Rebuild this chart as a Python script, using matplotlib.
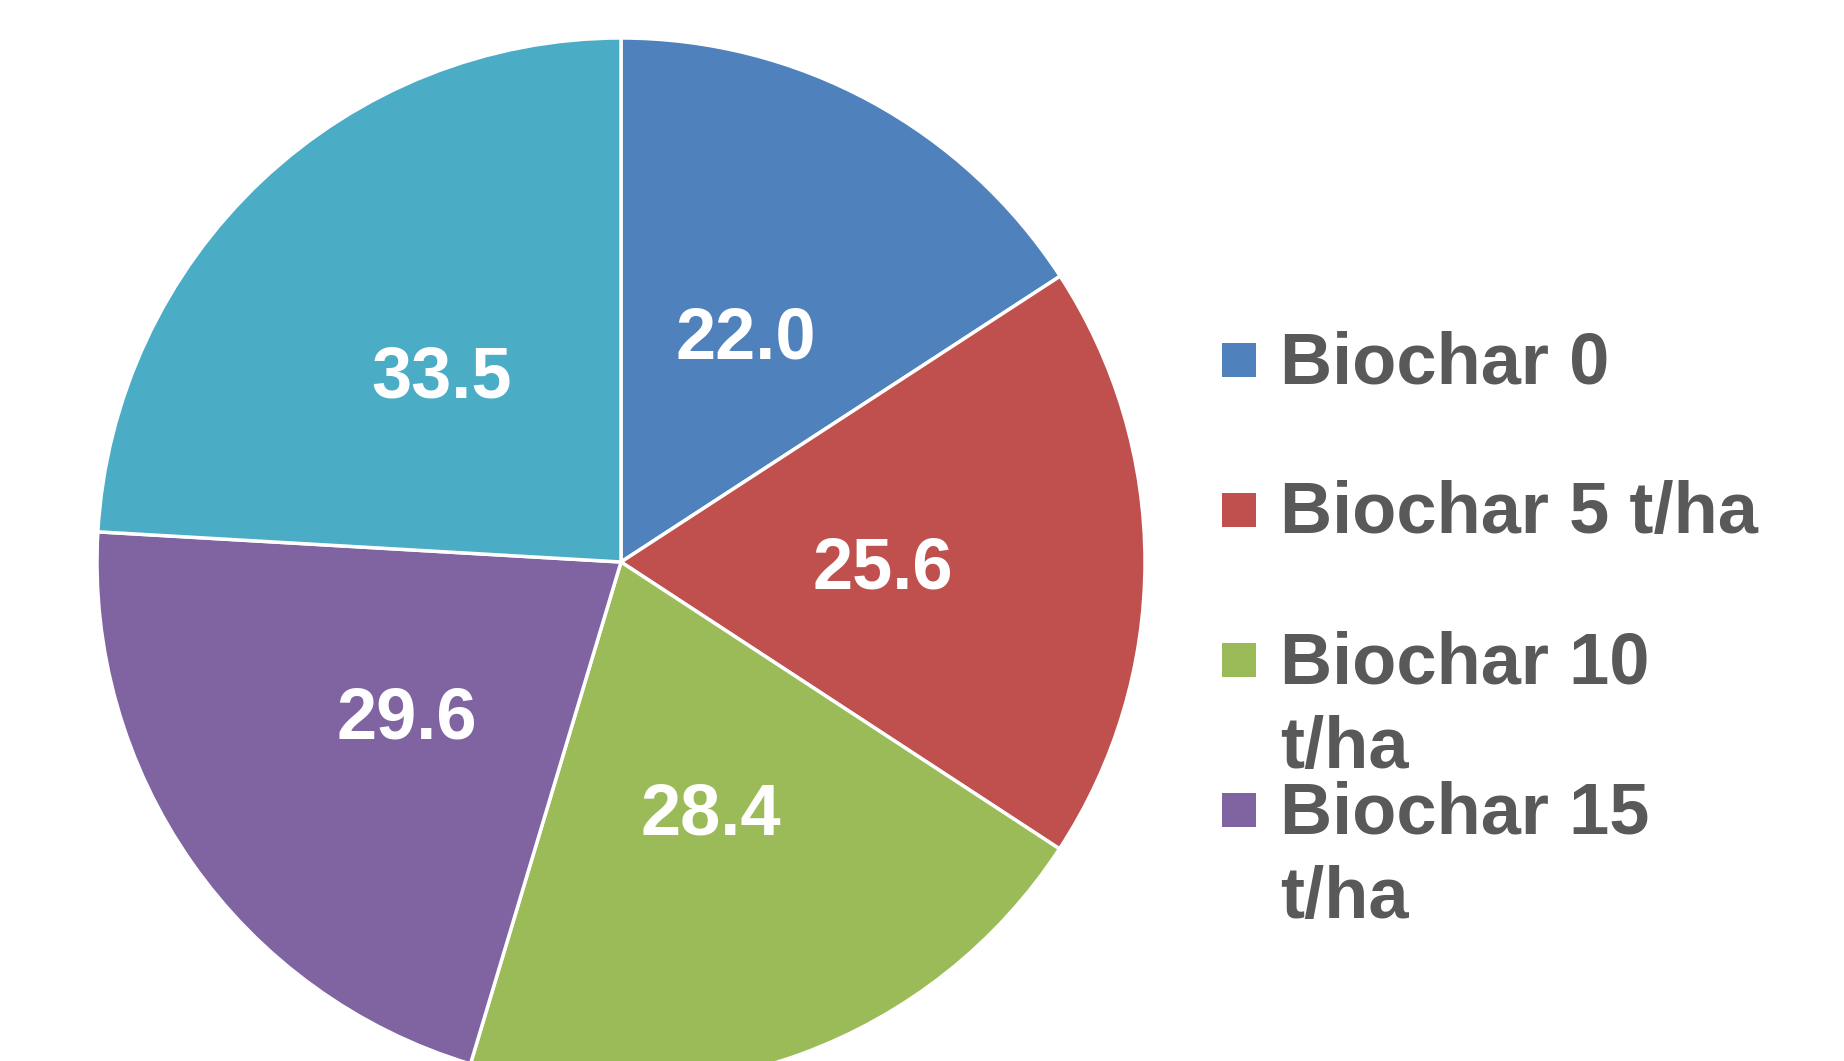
import matplotlib
matplotlib.use("Agg")
from matplotlib import pyplot as plt
from matplotlib.patches import Rectangle

# data
labels = ["Biochar 0", "Biochar 5 t/ha", "Biochar 10\nt/ha", "Biochar 15\nt/ha"]
values = [22.0, 25.6, 28.4, 29.6, 33.5]
colors = ["#4F81BD", "#C0504D", "#9BBB59", "#8064A2", "#4BACC6"]

W, H = 1844, 1061
DPI = 100
TEXT_GREY = "#595959"
FONT = "Liberation Sans"

fig = plt.figure(figsize=(W / DPI, H / DPI), dpi=DPI)

# pie centred at (621, 562) px, radius 524 px (bottom runs off the figure)
cx, cy, r = 621, 562, 524
ax = fig.add_axes([(cx - r) / W, (H - cy - r) / H, 2 * r / W, 2 * r / H])

total = sum(values)
wedges, texts, autotexts = ax.pie(
    values,
    colors=colors,
    startangle=90,
    counterclock=False,
    autopct=lambda p: f"{p * total / 100:.1f}",
    pctdistance=0.5,
    wedgeprops=dict(edgecolor="white", linewidth=2.5),
    textprops=dict(color="white", fontsize=52, fontweight="bold", family=FONT),
)
for t in autotexts:
    t.set_va("center_baseline")
ax.set_xlim(-1, 1)
ax.set_ylim(-1, 1)
ax.set_aspect("equal")
ax.axis("off")

# legend drawn by hand so wrapped lines can overlap like the original
x_box, x_text = 1222, 1280
y_first, step, line_step = 383, 150, 85
for i, label in enumerate(labels):
    base = y_first + i * step
    fig.patches.append(Rectangle((x_box / W, 1 - (base - 6) / H), 34 / W, 34 / H,
                                 transform=fig.transFigure, facecolor=colors[i],
                                 edgecolor="none"))
    for j, line in enumerate(label.split("\n")):
        fig.text(x_text / W, 1 - (base + j * line_step) / H, line,
                 fontsize=52, fontweight="bold", family=FONT, color=TEXT_GREY,
                 ha="left", va="baseline")

fig.savefig("out.png", dpi=DPI)
